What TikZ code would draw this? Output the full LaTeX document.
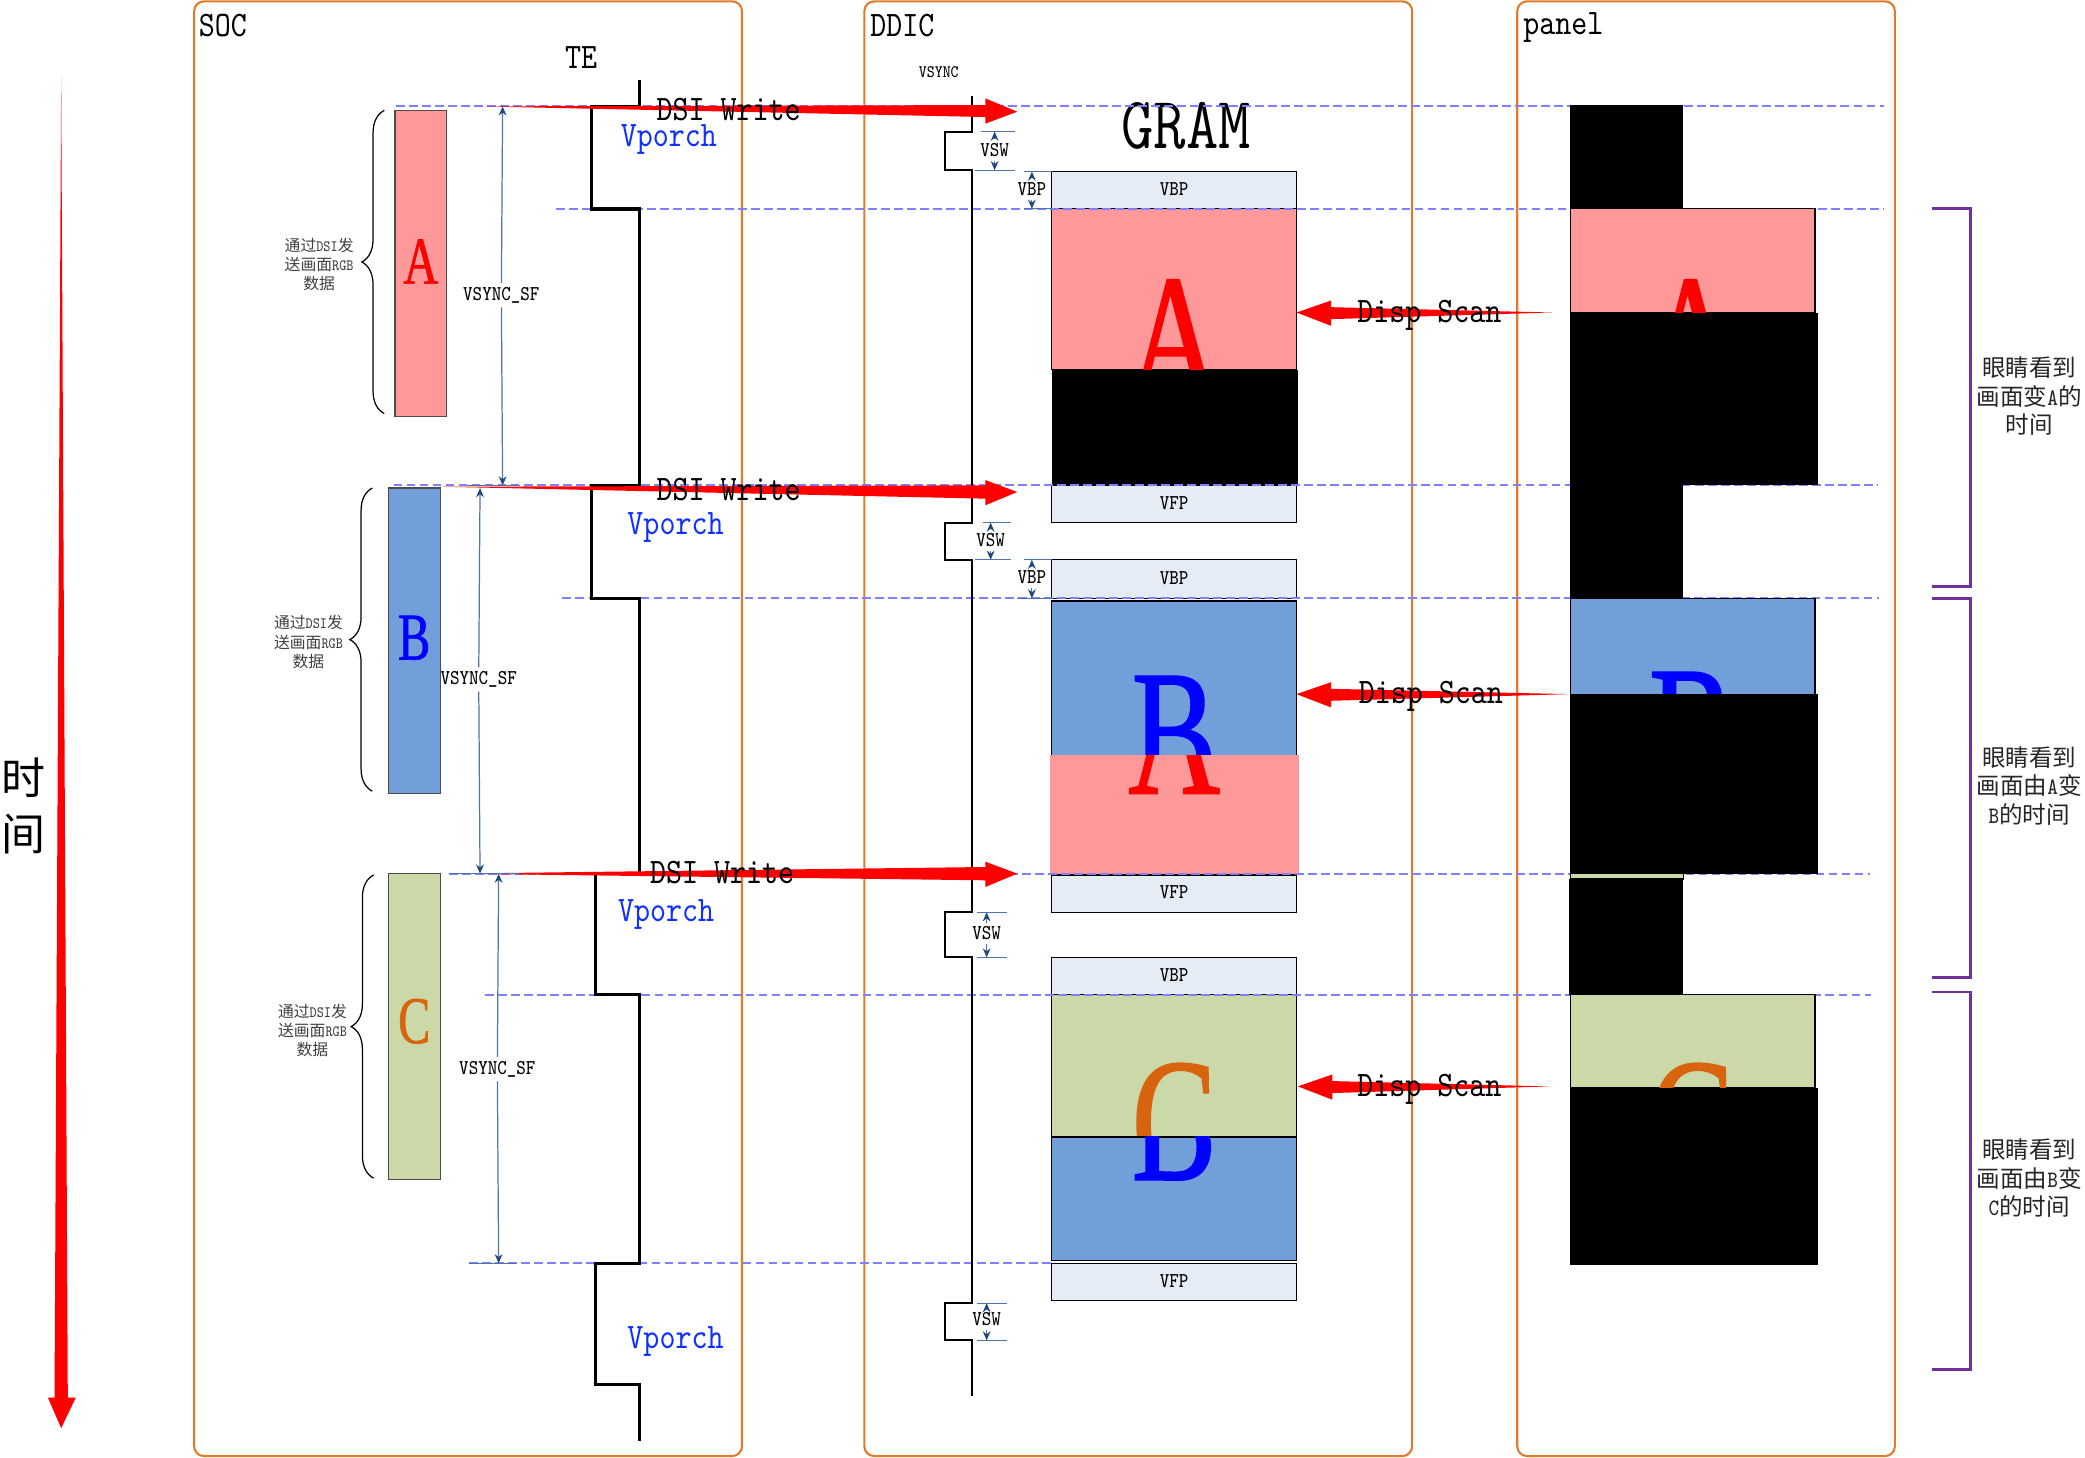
\documentclass[tikz,border=0pt]{standalone}
\usepackage{fontspec}
\usepackage{xcolor}
\usetikzlibrary{arrows.meta,decorations.pathreplacing}
\setmonofont[FakeStretch=0.85]{Latin Modern Mono}
\newfontfamily\cjk{Noto Sans CJK SC}
\newfontfamily\letterf[FakeStretch=0.72,FakeBold=1]{Liberation Serif}
\definecolor{frameorange}{HTML}{E07B2C}
\definecolor{pinkfill}{HTML}{FF9999}
\definecolor{bluefill}{HTML}{729ED9}
\definecolor{greenfill}{HTML}{CBD9A8}
\definecolor{cellfill}{HTML}{E6ECF6}
\definecolor{dashblue}{HTML}{8080FF}
\definecolor{measure}{HTML}{4F75A8}
\definecolor{measuredark}{HTML}{1F497D}
\definecolor{vporchblue}{HTML}{1030FF}
\definecolor{letterc}{HTML}{D9640F}
\definecolor{eyepurple}{HTML}{7030A0}
\begin{document}
\begin{tikzpicture}[x=0.013297cm, y=-0.013297cm,
    frame/.style={draw=frameorange, line width=0.6pt, rounded corners=2.8pt},
    cell/.style={draw=black, line width=0.35pt, fill=cellfill},
    seg/.style={draw=black, line width=0.35pt},
    sync/.style={dashed, draw=dashblue, line width=0.6pt, dash pattern=on 2.5pt off 1.2pt},
    redarrow/.style={fill=red},
    measureline/.style={draw=measure, line width=0.35pt},
    measurearrow/.style={measureline, -{Stealth[length=2.6pt,width=2.2pt,color=measuredark]}},
    titletext/.style={inner sep=0pt, font=\fontsize{10.2}{12}\selectfont\ttfamily},
    smalltext/.style={inner sep=1pt, font=\fontsize{6}{7}\selectfont\ttfamily},
    celltext/.style={smalltext, yshift=0.3pt},
    porchtext/.style={titletext, text=vporchblue},
    bracetext/.style={inner sep=0pt, align=center, text=black!75, font=\fontsize{4.5}{5.5}\selectfont\ttfamily},
    eyetext/.style={inner sep=0pt, align=center, text=black!85, font=\fontsize{6.7}{8.1}\selectfont\ttfamily},
    leftbrace/.style={decorate, decoration={brace, amplitude=6.4pt}, draw=black, line width=0.35pt},
    eyebracket/.style={draw=eyepurple, line width=0.8pt},
    bigletter/.style={inner sep=0pt, font=\fontsize{50}{50}\selectfont\letterf},
    barletter/.style={inner sep=0pt, font=\fontsize{19}{19}\selectfont\letterf}]
    \useasboundingbox (0,0) rectangle (1568,1096);

    \draw[frame] (146,1) rectangle (558,1095);
    \draw[frame] (650,1) rectangle (1062,1095);
    \draw[frame] (1141,1) rectangle (1425,1095);
    \node[titletext, anchor=west] (soc) at (149,19) {SOC};
    \node[titletext, anchor=west] (ddic) at (654,19) {DDIC};
    \node[titletext, anchor=west] (panel) at (1145,21) {panel};
    \node[titletext] (te) at (437,43) {TE};
    \node[inner sep=0pt, font=\fontsize{5}{6}\selectfont\ttfamily] (vsync) at (706,54) {VSYNC};
    \node[inner sep=0pt, font=\fontsize{21}{24}\selectfont\ttfamily] (gram) at (892,95) {GRAM};

    % time axis
    \fill[redarrow] (46,58) -- (51,1051) -- (57,1051) -- (46,1074) -- (36,1051) -- (41,1051) -- cycle;
    \node[inner sep=0pt, align=center, font=\fontsize{12.5}{16}\selectfont\cjk] (time) at (18,606) {时\\间};

    % soc frames
    \draw[draw=black!70, fill=pinkfill, line width=0.35pt] (297,83) rectangle (336,313) node[midway, barletter, text=red, yshift=0.5pt] (barA) {A};
    \draw[draw=black!70, fill=bluefill, line width=0.35pt] (292,367) rectangle (331,597) node[midway, barletter, text=blue, yshift=0.9pt] (barB) {B};
    \draw[draw=black!70, fill=greenfill, line width=0.35pt] (292,657) rectangle (331,887) node[midway, barletter, text=letterc, yshift=1.5pt] (barC) {C};
    \draw[leftbrace] (289,311) -- (289,83);
    \draw[leftbrace] (280,595) -- (280,367);
    \draw[leftbrace] (281,886) -- (281,658);
    \node[bracetext] (sendA) at (240,199) {{\cjk 通过}DSI{\cjk 发}\\{\cjk 送画面}RGB\\{\cjk 数据}};
    \node[bracetext] (sendB) at (232,483) {{\cjk 通过}DSI{\cjk 发}\\{\cjk 送画面}RGB\\{\cjk 数据}};
    \node[bracetext] (sendC) at (235,775) {{\cjk 通过}DSI{\cjk 发}\\{\cjk 送画面}RGB\\{\cjk 数据}};

    % gram
    \draw[cell] (791,129) rectangle (975,157) node[midway, celltext] (vbpA) {VBP};
    \draw[seg, fill=pinkfill] (791,157) rectangle (975,278);
    \node[bigletter, text=red] (gramA) at (883,254) {A};
    \fill[black] (791,278) rectangle (976,365);
    \draw[cell] (791,365) rectangle (975,393) node[midway, celltext] (vfpA) {VFP};
    \draw[cell] (791,421) rectangle (975,450) node[midway, celltext] (vbpB) {VBP};
    \draw[seg, fill=bluefill] (791,452) rectangle (975,568);
    \node[bigletter, text=blue] (gramB) at (883,552) {B};
    \fill[pinkfill] (790,568) rectangle (977,658);
    \begin{scope}
        \clip (790,568) rectangle (977,658);
        \node[bigletter, text=red] (oldA) at (883,553) {A};
    \end{scope}
    \draw[cell] (791,658) rectangle (975,686) node[midway, celltext] (vfpB) {VFP};
    \draw[cell] (791,720) rectangle (975,748) node[midway, celltext] (vbpC) {VBP};
    \draw[seg, fill=greenfill] (791,748) rectangle (975,855);
    \node[bigletter, text=letterc] (gramC) at (883,844) {C};
    \draw[seg, fill=bluefill] (791,855) rectangle (975,948);
    \begin{scope}
        \clip (791,855) rectangle (975,948);
        \node[bigletter, text=blue] (oldB) at (883,844) {B};
    \end{scope}
    \draw[cell] (791,950) rectangle (975,978) node[midway, celltext] (vfpC) {VFP};

    % sync lines
    \draw[sync] (298,80) -- (1417,80);
    \draw[sync] (418,157) -- (1417,157);
    \draw[sync] (296,365) -- (1412,365);
    \draw[sync] (423,450) -- (1413,450);
    \draw[sync] (338,657) -- (1406,657);
    \draw[sync] (365,748) -- (1407,748);
    \draw[sync] (353,950) -- (791,950);

    % panel
    \fill[black] (1181,79) rectangle (1266,157);
    \draw[seg, fill=pinkfill] (1181,157) rectangle (1365,235);
    \node[bigletter, text=red] (panelA) at (1272,254) {A};
    \fill[black] (1181,235) rectangle (1367,365);
    \fill[black] (1181,365) rectangle (1266,450);
    \draw[seg, fill=bluefill] (1181,450) rectangle (1365,522);
    \node[bigletter, text=blue] (panelB) at (1272,549) {B};
    \fill[black] (1181,522) rectangle (1367,657);
    \draw[seg, fill=greenfill] (1181,657) rectangle (1266,661);
    \fill[black] (1180,661) rectangle (1266,748);
    \draw[seg, fill=greenfill] (1181,748) rectangle (1365,818);
    \node[bigletter, text=letterc] (panelC) at (1272,844) {C};
    \fill[black] (1181,818) rectangle (1367,951);

    % te and vsync signals
    \draw[line width=1pt] (481,60) -- (481,80) -- (445,80) -- (445,157) -- (481,157) -- (481,365) -- (445,365) -- (445,450) -- (481,450) -- (481,657) -- (448,657) -- (448,748) -- (481,748) -- (481,950) -- (448,950) -- (448,1041) -- (481,1041) -- (481,1084);
    \draw[line width=0.55pt] (731,72) -- (731,99) -- (711,99) -- (711,128) -- (731,128) -- (731,393) -- (711,393) -- (711,421) -- (731,421) -- (731,686) -- (711,686) -- (711,720) -- (731,720) -- (731,980) -- (711,980) -- (711,1008) -- (731,1008) -- (731,1050);

    % write and scan arrows
    \fill[redarrow] (362,80) -- (741,79) -- (741,74) -- (765,84) -- (741,93) -- (741,88) -- cycle;
    \fill[redarrow] (332,366) -- (741,365) -- (741,361) -- (765,370) -- (741,380) -- (741,375) -- cycle;
    \fill[redarrow] (340,657) -- (741,652) -- (741,648) -- (765,657) -- (741,667) -- (741,662) -- cycle;
    \fill[redarrow] (1167,235) -- (1001,231) -- (1001,226) -- (975,235) -- (1001,245) -- (1001,240) -- cycle;
    \fill[redarrow] (1180,522) -- (1001,518) -- (1001,513) -- (975,522) -- (1001,532) -- (1001,527) -- cycle;
    \fill[redarrow] (1165,817) -- (1002,813) -- (1002,808) -- (976,817) -- (1002,827) -- (1002,822) -- cycle;
    \node[titletext] (writeA) at (548,82) {DSI Write};
    \node[titletext] (writeB) at (548,368) {DSI Write};
    \node[titletext] (writeC) at (543,656) {DSI Write};
    \node[titletext] (scanA) at (1075,237) {Disp Scan};
    \node[titletext] (scanB) at (1076,524) {Disp Scan};
    \node[titletext] (scanC) at (1075,819) {Disp Scan};
    \node[porchtext] (porchA) at (503,105) {Vporch};
    \node[porchtext] (porchB) at (508,397) {Vporch};
    \node[porchtext] (porchC) at (501,688) {Vporch};
    \node[porchtext] (porchD) at (508,1009) {Vporch};

    % vsync_sf
    \node[smalltext] (sfA) at (377,222) {VSYNC\_SF};
    \node[smalltext] (sfB) at (360,511) {VSYNC\_SF};
    \node[smalltext] (sfC) at (374,804) {VSYNC\_SF};
    \coordinate (sfAt) at (378,80);
    \coordinate (sfAb) at (378,365);
    \coordinate (sfBt) at (361,367);
    \coordinate (sfBb) at (361,657);
    \coordinate (sfCt) at (375,657);
    \coordinate (sfCb) at (375,950);
    \draw[measurearrow] (sfA) -- (sfAt);
    \draw[measurearrow] (sfA) -- (sfAb);
    \draw[measurearrow] (sfB) -- (sfBt);
    \draw[measurearrow] (sfB) -- (sfBb);
    \draw[measurearrow] (sfC) -- (sfCt);
    \draw[measurearrow] (sfC) -- (sfCb);
    \draw[measureline] (351,365) -- (391,365);
    \draw[measureline] (338,657) -- (390,657);
    \draw[measureline] (353,950) -- (388,950);

    % vsw and vbp
    \node[smalltext] (vswA) at (748,113) {VSW};
    \node[smalltext] (vswB) at (745,406) {VSW};
    \node[smalltext] (vswC) at (742,702) {VSW};
    \node[smalltext] (vswD) at (742,992) {VSW};
    \node[smalltext] (sideA) at (776,142) {VBP};
    \node[smalltext] (sideB) at (776,434) {VBP};
    \coordinate (vswAt) at (748,99);
    \coordinate (vswAb) at (748,128);
    \coordinate (vswBt) at (745,393);
    \coordinate (vswBb) at (745,421);
    \coordinate (vswCt) at (742,686);
    \coordinate (vswCb) at (742,720);
    \coordinate (vswDt) at (742,980);
    \coordinate (vswDb) at (742,1008);
    \coordinate (sideAt) at (776,129);
    \coordinate (sideAb) at (776,157);
    \coordinate (sideBt) at (776,421);
    \coordinate (sideBb) at (776,450);
    \draw[measurearrow] (vswA) -- (vswAt);
    \draw[measurearrow] (vswA) -- (vswAb);
    \draw[measurearrow] (vswB) -- (vswBt);
    \draw[measurearrow] (vswB) -- (vswBb);
    \draw[measurearrow] (vswC) -- (vswCt);
    \draw[measurearrow] (vswC) -- (vswCb);
    \draw[measurearrow] (vswD) -- (vswDt);
    \draw[measurearrow] (vswD) -- (vswDb);
    \draw[measurearrow] (sideA) -- (sideAt);
    \draw[measurearrow] (sideA) -- (sideAb);
    \draw[measurearrow] (sideB) -- (sideBt);
    \draw[measurearrow] (sideB) -- (sideBb);
    \draw[measureline] (738,99) -- (763,99);
    \draw[measureline] (733,128) -- (763,128);
    \draw[measureline] (739,393) -- (760,393);
    \draw[measureline] (733,421) -- (760,421);
    \draw[measureline] (735,686) -- (757,686);
    \draw[measureline] (735,720) -- (757,720);
    \draw[measureline] (735,980) -- (757,980);
    \draw[measureline] (735,1008) -- (757,1008);
    \draw[measureline] (770,129) -- (791,129);
    \draw[measureline] (770,157) -- (791,157);
    \draw[measureline] (770,421) -- (791,421);
    \draw[measureline] (765,450) -- (791,450);

    % eye brackets
    \draw[eyebracket] (1453,157) -- (1482,157) -- (1482,441) -- (1453,441);
    \draw[eyebracket] (1453,450) -- (1482,450) -- (1482,735) -- (1453,735);
    \draw[eyebracket] (1453,746) -- (1482,746) -- (1482,1030) -- (1453,1030);
    \node[eyetext] (eyeA) at (1526,298) {{\cjk 眼睛看到}\\{\cjk 画面变}A{\cjk 的}\\{\cjk 时间}};
    \node[eyetext] (eyeB) at (1526,591) {{\cjk 眼睛看到}\\{\cjk 画面由}A{\cjk 变}\\B{\cjk 的时间}};
    \node[eyetext] (eyeC) at (1526,886) {{\cjk 眼睛看到}\\{\cjk 画面由}B{\cjk 变}\\C{\cjk 的时间}};
\end{tikzpicture}
\end{document}
